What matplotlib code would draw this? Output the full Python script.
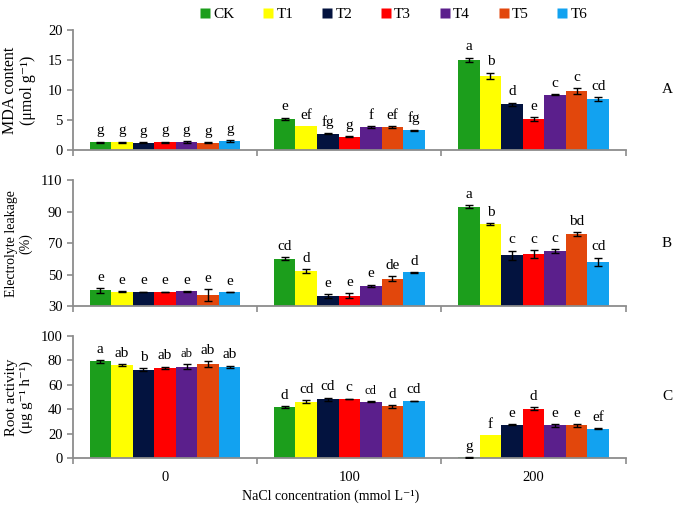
import matplotlib
matplotlib.use("Agg")
import matplotlib.pyplot as plt
from matplotlib.lines import Line2D
import numpy as np

plt.rcParams['font.family'] = ['Liberation Serif', 'DejaVu Serif']

treatments = ["CK", "T1", "T2", "T3", "T4", "T5", "T6"]
colors = ["#1c9e1c", "#ffff00", "#03133f", "#ff0000", "#5b1f8c", "#e2470c", "#12a2f0"]
nacl_labels = ["0", "100", "200"]

# Panel A: MDA content (rows = NaCl level, cols = treatment)
mda = [[1.3, 1.3, 1.2, 1.3, 1.4, 1.2, 1.5],
       [5.2, 4.0, 2.7, 2.2, 3.8, 3.9, 3.3],
       [15.0, 12.4, 7.6, 5.2, 9.2, 9.8, 8.5]]
mda_err = [[0.1, 0.1, 0.1, 0.1, 0.15, 0.1, 0.1],
           [0.2, 0.0, 0.1, 0.1, 0.15, 0.15, 0.1],
           [0.4, 0.5, 0.3, 0.3, 0.1, 0.5, 0.3]]
mda_let = [["g"] * 7,
           ["e", "ef", "fg", "g", "f", "ef", "fg"],
           ["a", "b", "d", "e", "c", "c", "cd"]]

# Panel B: electrolyte leakage
el = [[40.0, 39.3, 39.0, 39.0, 39.4, 37.0, 38.9],
      [60.0, 52.3, 36.6, 36.6, 43.0, 47.4, 51.4],
      [93.0, 82.0, 62.3, 63.3, 65.0, 76.0, 58.3]]
el_err = [[1.5, 0.4, 0.3, 0.3, 0.4, 4.0, 0.2],
          [1.0, 1.0, 1.2, 1.5, 0.7, 1.5, 0.5],
          [1.0, 0.5, 3.0, 2.5, 1.0, 1.2, 2.5]]
el_let = [["e"] * 7,
          ["cd", "d", "e", "e", "e", "de", "d"],
          ["a", "b", "c", "c", "c", "bd", "cd"]]

# Panel C: root activity
ra = [[79.0, 76.2, 72.4, 73.8, 74.8, 77.0, 74.6],
      [41.8, 46.0, 48.0, 48.4, 46.2, 42.3, 46.7],
      [0.5, 19.0, 27.3, 40.5, 26.7, 26.7, 24.0]]
ra_err = [[1.0, 0.5, 1.0, 1.0, 2.0, 2.5, 1.0],
          [1.0, 1.2, 1.5, 0.3, 0.3, 1.0, 0.3],
          [0.3, 0.0, 0.3, 1.5, 1.0, 1.0, 0.3]]
ra_let = [["a", "ab", "b", "ab", "ab", "ab", "ab"],
          ["d", "cd", "cd", "c", "cd", "d", "cd"],
          ["g", "f", "e", "d", "e", "e", "ef"]]

panels = [
    (mda, mda_err, mda_let, "MDA content\n(μmol g⁻¹)", 11.5, (0, 20), [0, 5, 10, 15, 20], "A",
     [0.108, 0.704, 0.819, 0.237]),
    (el, el_err, el_let, "Electrolyte leakage\n(%)", 10, (30, 110), [30, 50, 70, 90, 110], "B",
     [0.108, 0.396, 0.819, 0.249]),
    (ra, ra_err, ra_let, "Root activity\n(μg g⁻¹ h⁻¹)", 10.7, (0, 100), [0, 20, 40, 60, 80, 100], "C",
     [0.108, 0.0966, 0.819, 0.241]),
]

fig = plt.figure(figsize=(6.75, 5.07), dpi=100)
spine_col = "#8c8c8c"
bw = 0.117
fs = 11
tfs = 10.5

for vals, errs, lets, ylab, yfs, ylim, yt, tag, pos in panels:
    ax = fig.add_axes(pos)
    for g in range(3):
        center = g + 0.5
        for i in range(7):
            x = center + (i - 3) * bw
            ax.bar(x, vals[g][i], width=bw, color=colors[i], edgecolor='none', zorder=2)
            if errs[g][i] > 0:
                ax.errorbar(x, vals[g][i], yerr=errs[g][i], fmt='none', ecolor='black',
                            elinewidth=1, capsize=3, capthick=1, zorder=3)
            lfs = 9 if (tag == "C" and i == 4 and g < 2) else fs
            ax.annotate(lets[g][i], (x, vals[g][i] + errs[g][i]), xytext=(0, 3),
                        textcoords='offset points', ha='center', va='bottom', fontsize=lfs)
    ax.set_xlim(0, 3)
    ax.set_ylim(*ylim)
    ax.set_yticks(yt)
    ax.set_yticklabels([str(v) for v in yt], fontsize=tfs)
    ax.set_xticks([0, 1, 2, 3])
    ax.set_xticklabels([])
    ax.set_xticks([0.5, 1.5, 2.5], minor=True)
    if tag == "C":
        ax.set_xticklabels(nacl_labels, minor=True, fontsize=tfs)
    ax.tick_params(axis='x', which='minor', length=0, pad=9)
    ax.tick_params(axis='both', which='major', direction='out', length=4, color=spine_col, width=1.2)
    for s in ['top', 'right']:
        ax.spines[s].set_visible(False)
    for s in ['left', 'bottom']:
        ax.spines[s].set_color(spine_col)
        ax.spines[s].set_linewidth(1.3)
    fig.text(19 / 675, pos[1] + pos[3] * 0.5, ylab, fontsize=yfs, rotation=90,
             ha='center', va='center', linespacing=1.1, multialignment='center')
    fig.text(667 / 675, pos[1] + pos[3] * 0.5, tag, fontsize=fs, ha='center', va='center')

fig.text(331 / 675, 1 - 496 / 507, "NaCl concentration (mmol L⁻¹)", fontsize=10,
         ha='center', va='center')

handles = [Line2D([0], [0], marker='s', linestyle='none', markersize=7,
                  markerfacecolor=c, markeredgecolor='none') for c in colors]
fig.legend(handles, treatments, loc='upper center', bbox_to_anchor=(0.583, 1.012), ncol=7,
           frameon=False, fontsize=fs, handlelength=0.7, handletextpad=0.2, columnspacing=1.85)

fig.savefig("out.png", dpi=100)
